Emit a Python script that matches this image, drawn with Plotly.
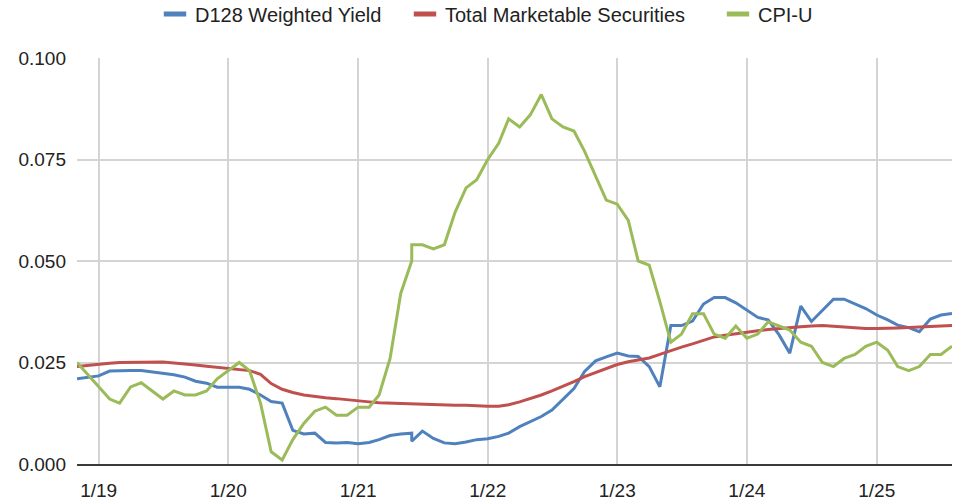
import pandas as pd
import plotly.graph_objects as go

# Dates as placed on the chart (the source repeats 2021-06-01 once)
dates_a = pd.date_range("2018-11-01", "2021-06-01", freq="MS")
dates_b = pd.date_range("2021-06-01", "2025-08-01", freq="MS")
dates = list(dates_a) + list(dates_b)

d128_yield = [
    0.0210, 0.0214, 0.0217,
    0.0229, 0.0230, 0.0230, 0.0230, 0.0227, 0.0224, 0.0220, 0.0214, 0.0204, 0.0199, 0.0189, 0.0189,
    0.0189, 0.0184, 0.0170, 0.0154, 0.0150, 0.0083, 0.0074, 0.0076, 0.0053, 0.0052, 0.0053, 0.0050,
    0.0053, 0.0060, 0.0070, 0.0074, 0.0076, 0.0056, 0.0081, 0.0063, 0.0052, 0.0050, 0.0054, 0.0060,
    0.0062, 0.0068, 0.0076, 0.0092, 0.0105, 0.0117, 0.0133, 0.0160, 0.0186, 0.0228, 0.0254, 0.0264,
    0.0273, 0.0266, 0.0265, 0.0240, 0.0190, 0.0341, 0.0341, 0.0352, 0.0394, 0.0410, 0.0410, 0.0397,
    0.0379, 0.0361, 0.0355, 0.0318, 0.0273, 0.0389, 0.0351, 0.0378, 0.0406, 0.0406, 0.0394, 0.0383,
    0.0367, 0.0355, 0.0342, 0.0336, 0.0326, 0.0357, 0.0367, 0.0371,
]

total_marketable = [
    0.0240, 0.0243, 0.0246,
    0.0248, 0.0250, 0.0250, 0.0251, 0.0251, 0.0251, 0.0249, 0.0247, 0.0244, 0.0241, 0.0238, 0.0236,
    0.0233, 0.0230, 0.0221, 0.0198, 0.0184, 0.0176, 0.0170, 0.0166, 0.0163, 0.0161, 0.0158, 0.0155,
    0.0153, 0.0151, 0.0150, 0.0149, 0.0148, 0.0148, 0.0147, 0.0147, 0.0146, 0.0145, 0.0145, 0.0143,
    0.0142, 0.0142, 0.0146, 0.0153, 0.0161, 0.0170, 0.0180, 0.0191, 0.0203, 0.0215, 0.0225, 0.0235,
    0.0245, 0.0252, 0.0256, 0.0261, 0.0270, 0.0280, 0.0288, 0.0296, 0.0305, 0.0313, 0.0317, 0.0320,
    0.0324, 0.0328, 0.0331, 0.0334, 0.0336, 0.0338, 0.0340, 0.0341, 0.0339, 0.0337, 0.0336, 0.0334,
    0.0334, 0.0334, 0.0335, 0.0336, 0.0337, 0.0338, 0.0340, 0.0341,
]

cpi_u = [
    0.025, 0.022, 0.019,
    0.016, 0.015, 0.019, 0.020, 0.018, 0.016, 0.018, 0.017, 0.017, 0.018, 0.021, 0.023,
    0.025, 0.023, 0.015, 0.003, 0.001, 0.006, 0.010, 0.013, 0.014, 0.012, 0.012, 0.014,
    0.014, 0.017, 0.026, 0.042, 0.050, 0.054, 0.054, 0.053, 0.054, 0.062, 0.068, 0.070,
    0.075, 0.079, 0.085, 0.083, 0.086, 0.091, 0.085, 0.083, 0.082, 0.077, 0.071, 0.065,
    0.064, 0.060, 0.050, 0.049, 0.040, 0.030, 0.032, 0.037, 0.037, 0.032, 0.031, 0.034,
    0.031, 0.032, 0.035, 0.034, 0.033, 0.030, 0.029, 0.025, 0.024, 0.026, 0.027, 0.029,
    0.030, 0.028, 0.024, 0.023, 0.024, 0.027, 0.027, 0.029,
]

series_names = ["D128 Weighted Yield", "Total Marketable Securities", "CPI-U"]
series_colors = ["#4F81BD", "#C0504D", "#9BBB59"]

x_tickvals = ["2019-01-01", "2020-01-01", "2021-01-01", "2022-01-01",
              "2023-01-01", "2024-01-01", "2025-01-01"]
x_ticktext = ["1/19", "1/20", "1/21", "1/22", "1/23", "1/24", "1/25"]
y_tickvals = [0.0, 0.025, 0.05, 0.075, 0.1]

FONT = "Liberation Sans, Arial, sans-serif"

fig = go.Figure()
for name, vals, col in zip(series_names, [d128_yield, total_marketable, cpi_u], series_colors):
    fig.add_trace(go.Scatter(x=dates, y=vals, mode="lines", name=name,
                             line=dict(color=col, width=3), showlegend=False))

legend_keys = ["legend", "legend2", "legend3"]
legend_x = [155, 405, 718]
for name, col, lk in zip(series_names, series_colors, legend_keys):
    fig.add_trace(go.Scatter(x=[None], y=[None], mode="markers", name=name, legend=lk,
                             marker=dict(symbol="line-ew", size=16, color=col,
                                         line=dict(color=col, width=5))))

leg_common = dict(orientation="h", xref="container", yref="container",
                  yanchor="middle", xanchor="left", y=1 - 14 / 501,
                  bgcolor="rgba(0,0,0,0)", borderwidth=0,
                  font=dict(family=FONT, size=20, color="#222222"))
fig.update_layout(
    legend=dict(x=legend_x[0] / 965, **leg_common),
    legend2=dict(x=legend_x[1] / 965, **leg_common),
    legend3=dict(x=legend_x[2] / 965, **leg_common),
)

fig.update_layout(
    width=965, height=501,
    margin=dict(l=77, r=13, t=58, b=37, autoexpand=False),
    paper_bgcolor="white", plot_bgcolor="white",
    font=dict(family=FONT, size=19, color="#222222"),
    xaxis=dict(type="date", range=["2018-11-01", "2025-08-01"],
               tickvals=x_tickvals, ticktext=x_ticktext,
               showgrid=True, gridcolor="#D4D4D4", gridwidth=2,
               showline=True, linecolor="#3A3A3A", linewidth=2,
               ticks="", zeroline=False, ticklabelstandoff=8,
               tickfont=dict(size=19)),
    yaxis=dict(range=[0, 0.1], tickvals=y_tickvals, tickformat=".3f",
               showgrid=True, gridcolor="#D4D4D4", gridwidth=2,
               zeroline=False, showline=False, ticks="",
               ticklabelstandoff=10, tickfont=dict(size=19)),
)

fig.write_html("out.html",
               config={"displayModeBar": False},
               post_script="document.body.style.margin='0';document.body.style.padding='0';")
